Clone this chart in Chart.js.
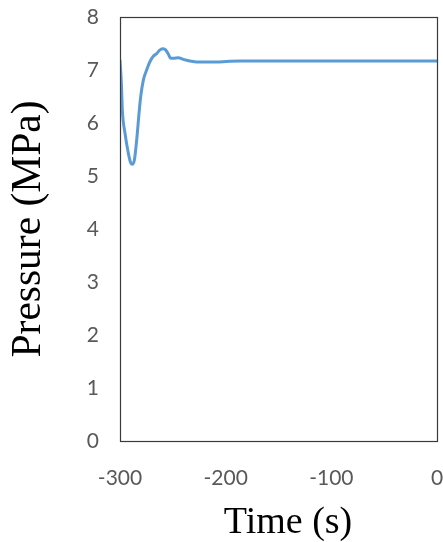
<!DOCTYPE html>
<html>
<head>
<meta charset="utf-8">
<script src="https://cdn.jsdelivr.net/npm/chart.js@4/dist/chart.umd.min.js"></script>
<style>
html,body{margin:0;padding:0;background:#fff;}
#wrap{width:443px;height:542px;position:relative;}
</style>
</head>
<body>
<div id="wrap"><canvas id="c" width="443" height="542"></canvas></div>
<script>
const timeSeconds = [-300,-298.7,-297.8,-295.3,-292.1,-289.9,-288.3,-286.4,-284.2,-282.0,-280.4,-277.9,-274.8,-271.6,-268.5,-265.3,-262.1,-259.0,-256.8,-254.3,-252.0,-249.5,-244.8,-240.1,-233.8,-227.4,-218.0,-208.5,-199.1,-186.4,-150,-100,-50,0];
const pressureMPa = [7.19,6.75,6.25,5.81,5.43,5.25,5.22,5.30,5.68,6.18,6.50,6.81,7.00,7.16,7.26,7.31,7.38,7.40,7.38,7.30,7.22,7.22,7.23,7.20,7.17,7.15,7.15,7.15,7.16,7.17,7.17,7.17,7.17,7.17];
const xTicks = [-300,-200,-100,0];
const yTicks = [0,1,2,3,4,5,6,7,8];

const points = timeSeconds.map((t,i)=>({x:t,y:pressureMPa[i]}));

const boxPlugin = {
  id:'box',
  afterDatasetsDraw(chart){
    const a = chart.chartArea, ctx = chart.ctx;
    ctx.save();
    ctx.strokeStyle = '#3a3a3a';
    ctx.lineWidth = 1.2;
    ctx.strokeRect(Math.round(a.left)+0.5, Math.round(a.top)+0.5, Math.round(a.right-a.left), Math.round(a.bottom-a.top));
    ctx.restore();
  }
};

function noPad(s){ s.paddingTop = 0; s.paddingBottom = 0; s.paddingLeft = 0; s.paddingRight = 0; }

new Chart(document.getElementById('c'), {
  type:'line',
  data:{datasets:[{
    data:points,
    borderColor:'#5B9BD5',
    borderWidth:3,
    pointRadius:0,
    fill:false,
    cubicInterpolationMode:'monotone'
  }]},
  options:{
    responsive:false,
    animation:false,
    layout:{padding:{left:0,right:6,top:17,bottom:0}},
    plugins:{legend:{display:false},tooltip:{enabled:false}},
    scales:{
      x:{
        type:'linear', min:-300, max:0,
        afterBuildTicks(s){ s.ticks = xTicks.map(v=>({value:v})); },
        afterFit(s){ s.height = 101; noPad(s); },
        grid:{display:false, drawTicks:false},
        border:{display:false},
        ticks:{color:'#595959', font:{family:'Lato', size:21}, padding:25, maxRotation:0, autoSkip:false},
        title:{display:true, text:'  Time (s)', color:'#000', font:{family:'Liberation Serif', size:38}, padding:{top:-4,bottom:-4}}
      },
      y:{
        type:'linear', min:0, max:8,
        afterBuildTicks(s){ s.ticks = yTicks.map(v=>({value:v})); },
        afterFit(s){ s.width = 120; noPad(s); },
        grid:{display:false, drawTicks:false},
        border:{display:false},
        ticks:{color:'#595959', font:{family:'Lato', size:21}, padding:21},
        title:{display:true, text:'Pressure (MPa)', color:'#000', font:{family:'Liberation Serif', size:41.5}, padding:{top:4,bottom:0}}
      }
    }
  },
  plugins:[boxPlugin]
});
</script>
</body>
</html>
